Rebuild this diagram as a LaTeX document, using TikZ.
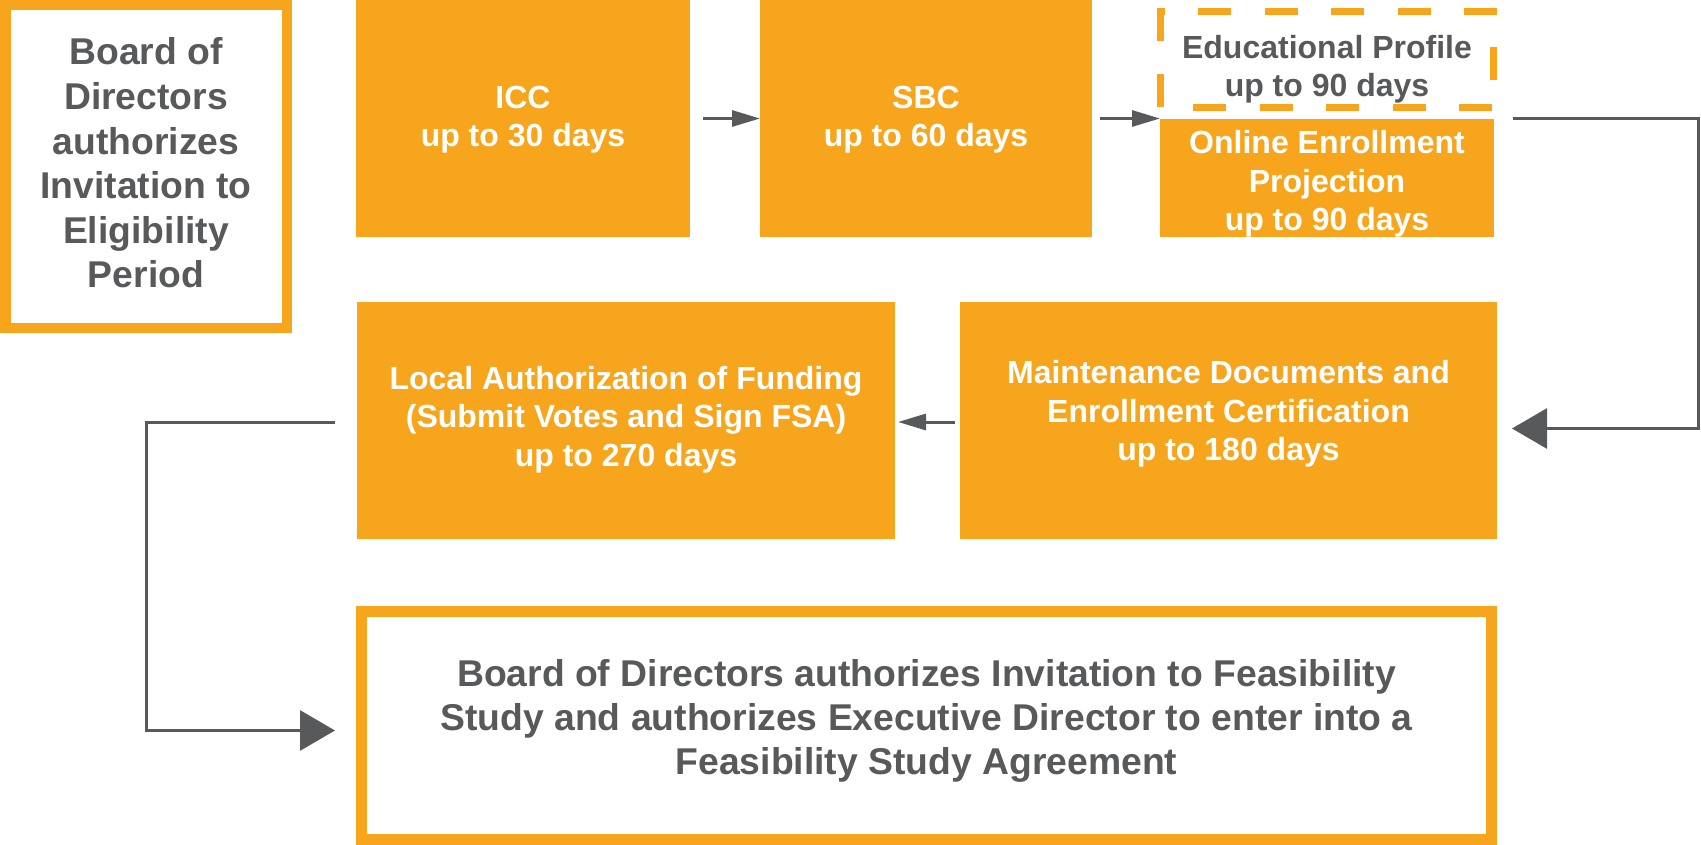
\documentclass[tikz,border=0pt]{standalone}
\usepackage{fontspec}
\setmainfont{Liberation Sans}
\usetikzlibrary{arrows.meta}
\definecolor{flowOrange}{HTML}{F7A51D}
\definecolor{flowGray}{HTML}{58595B}

\begin{document}
\begin{tikzpicture}[x=1pt,y=-1pt,
  box/.style={rectangle, inner sep=0pt, outer sep=0pt},
  solidbox/.style={box, fill=flowOrange},
  framebox/.style={box, draw=flowOrange, fill=white},
  dashside/.style={draw=flowOrange, line width=7pt, line cap=rect,
    dash pattern=on 26pt off 40.5pt},
  boxtext/.style={align=center, inner sep=0pt, outer sep=0pt},
  midfont/.style={font=\bfseries\fontsize{32}{38.5}\selectfont},
  bigfont/.style={font=\bfseries\fontsize{37.3}{44.6}\selectfont},
  whitetext/.style={boxtext, midfont, text=white},
  graytext/.style={boxtext, midfont, text=flowGray},
  flowline/.style={draw=flowGray, line width=3pt},
  smallhead/.style={flowline, -{Triangle[length=28pt,width=16pt]}},
  bighead/.style={flowline, -{Triangle[length=35pt,width=40pt]}}
]
\useasboundingbox (0,0) rectangle (1701,845);

% start: eligibility invitation
\node[framebox, line width=10.5pt, minimum width=281.5pt, minimum height=322.5pt]
  (elig) at (146,166.5) {};
\node[boxtext, bigfont, text=flowGray] (elig-t) at (146,167.5)
  {\strut Board of\\\strut Directors\\\strut authorizes\\\strut Invitation to\\\strut Eligibility\\\strut Period};

% first row
\node[solidbox, minimum width=334pt, minimum height=237pt] (icc) at (523,118.5) {};
\node[whitetext] (icc-t) at (523,119.7) {\strut ICC\\\strut up to 30 days};

\node[solidbox, minimum width=332pt, minimum height=237pt] (sbc) at (926,118.5) {};
\node[whitetext] (sbc-t) at (926,119.7) {\strut SBC\\\strut up to 60 days};

\node[box, minimum width=333pt, minimum height=96pt] (edu) at (1327,59.5) {};
\draw[dashside, dash phase=25.5pt] (edu.north west) -- (edu.north east);
\draw[dashside, dash phase=27.5pt] (edu.north east) -- (edu.south east);
\draw[dashside, dash phase=30.5pt] (edu.south west) -- (edu.south east);
\draw[dashside, dash phase=0pt] (edu.north west) -- (edu.south west);
\node[graytext, font=\bfseries\fontsize{32}{38}\selectfont] (edu-t) at (1327,69.6)
  {\strut Educational Profile\\\strut up to 90 days};

\node[solidbox, minimum width=334pt, minimum height=118pt] (online) at (1327,178) {};
\node[whitetext] (online-t) at (1327,184.5)
  {\strut Online Enrollment\\\strut Projection\\\strut up to 90 days};

% second row
\node[solidbox, minimum width=538pt, minimum height=237pt] (local) at (626,420.5) {};
\node[whitetext] (local-t) at (626,420)
  {\strut Local Authorization of Funding\\\strut (Submit Votes and Sign FSA)\\\strut up to 270 days};

\node[solidbox, minimum width=537pt, minimum height=237pt] (maint) at (1228.5,420.5) {};
\node[whitetext] (maint-t) at (1228.5,414.6)
  {\strut Maintenance Documents and\\\strut Enrollment Certification\\\strut up to 180 days};

% final step
\node[framebox, line width=11pt, minimum width=1130pt, minimum height=228pt]
  (fsa) at (926.5,725.5) {};
\node[boxtext, font=\bfseries\fontsize{37.3}{44}\selectfont, text=flowGray] (fsa-t) at (926.5,722)
  {\strut Board of Directors authorizes Invitation to Feasibility\\\strut Study and authorizes Executive Director to enter into a\\\strut Feasibility Study Agreement};

% connectors
\draw[smallhead] ([xshift=13pt]icc.east) -- (sbc.west);
\draw[smallhead] ([xshift=8pt]sbc.east) -- (sbc.east -| online.west);

\coordinate (rturn) at (1698,119);
\draw[bighead] ([xshift=19pt]online.north east) -- (rturn)
  |- ([xshift=15pt,yshift=-8pt]maint.east);

\draw[smallhead] ([xshift=-5pt,yshift=-1.5pt]maint.west) -- ([xshift=3pt,yshift=-1.5pt]local.east);

\coordinate (lturn) at (146,422);
\draw[bighead] ([xshift=-22pt,yshift=-1.5pt]local.west) -- (lturn)
  |- ([xshift=-26.5pt,yshift=-5pt]fsa.west);
\end{tikzpicture}
\end{document}
